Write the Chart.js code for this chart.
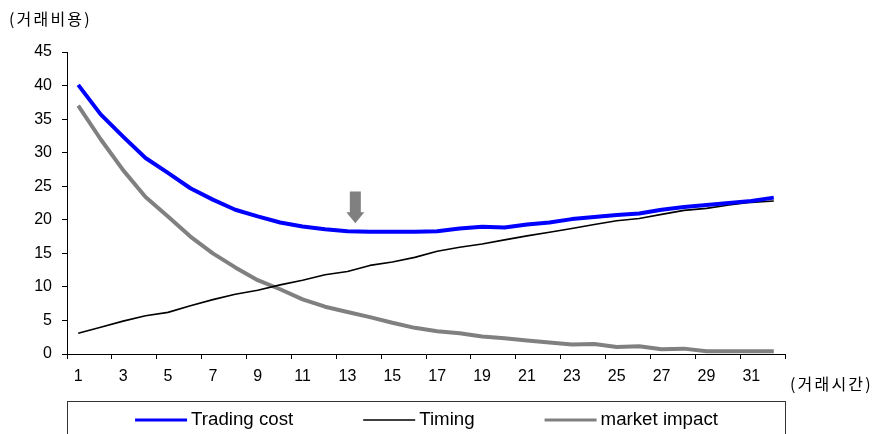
<!DOCTYPE html>
<html>
<head>
<meta charset="utf-8">
<script src="https://cdn.jsdelivr.net/npm/chart.js@4/dist/chart.umd.min.js"></script>
<style>
  html, body { margin: 0; padding: 0; background: #fff; }
  #wrap { width: 887px; height: 434px; position: relative; }
</style>
</head>
<body>
<div id="wrap"><canvas id="c" width="887" height="434"></canvas></div>
<script>
// Trading period (x axis categories)
const periods = ['1','2','3','4','5','6','7','8','9','10','11','12','13','14','15','16',
                 '17','18','19','20','21','22','23','24','25','26','27','28','29','30','31','32'];

// Total trading cost = timing risk + market impact
const tradingCost = [40.1, 35.7, 32.4, 29.2, 27.0, 24.7, 23.0, 21.5, 20.5, 19.6, 19.0, 18.6, 18.3, 18.2, 18.2, 18.2,
                     18.3, 18.7, 18.95, 18.85, 19.3, 19.6, 20.1, 20.4, 20.7, 20.95, 21.5, 21.9, 22.2, 22.5, 22.8, 23.3];
const timing = [3.1, 4.0, 4.9, 5.7, 6.2, 7.2, 8.1, 8.9, 9.5, 10.3, 11.0, 11.8, 12.3, 13.2, 13.7, 14.4,
                15.3, 15.9, 16.4, 17.0, 17.6, 18.15, 18.7, 19.3, 19.85, 20.2, 20.8, 21.4, 21.7, 22.2, 22.6, 22.8];
const marketImpact = [37.0, 32.0, 27.4, 23.4, 20.5, 17.5, 15.0, 12.9, 11.0, 9.65, 8.15, 7.05, 6.25, 5.5, 4.65, 3.9,
                      3.4, 3.1, 2.6, 2.35, 2.0, 1.7, 1.4, 1.5, 1.05, 1.15, 0.7, 0.8, 0.4, 0.4, 0.4, 0.4];

// Series names
const seriesNames = ['Trading cost', 'Timing', 'market impact'];

// Value axis range
const yMin = 0, yMax = 45, yStep = 5;

// Axis captions
const yCaption = '(거래비용)';
const xCaption = '(거래시간)';

// Marker pointing at the minimum-cost region (category index, value from/to)
const markerAt = 12.35;
const markerTop = 24.2;
const markerTip = 19.5;

const tickFont = { family: '"Liberation Sans", Arial, sans-serif', size: 16 };

const annotations = {
  id: 'annotations',
  afterDraw(chart) {
    const ctx = chart.ctx;
    const xs = chart.scales.x, ys = chart.scales.y;
    ctx.save();

    // closing tick mark at the right end of the category axis
    ctx.strokeStyle = '#000';
    ctx.lineWidth = 1;
    ctx.beginPath();
    const xr = Math.round(xs.right) + 0.5;
    ctx.moveTo(xr, ys.bottom);
    ctx.lineTo(xr, ys.bottom + 5);
    ctx.stroke();

    // axis captions
    ctx.fillStyle = '#000';
    ctx.font = '16px "Noto Sans CJK KR", sans-serif';
    ctx.letterSpacing = '2.2px';
    ctx.textBaseline = 'middle';
    ctx.textAlign = 'left';
    ctx.fillText(yCaption, 9, 19);
    ctx.fillText(xCaption, xs.right + 5, 384);
    ctx.letterSpacing = '0px';

    // down arrow marker
    const ax = xs.getPixelForValue(markerAt);
    const yTop = ys.getPixelForValue(markerTop);
    const yTip = ys.getPixelForValue(markerTip);
    const headH = 11, shaftHalf = 5.5, headHalf = 9;
    ctx.fillStyle = '#808080';
    ctx.beginPath();
    ctx.moveTo(ax - shaftHalf, yTop);
    ctx.lineTo(ax + shaftHalf, yTop);
    ctx.lineTo(ax + shaftHalf, yTip - headH);
    ctx.lineTo(ax + headHalf, yTip - headH);
    ctx.lineTo(ax, yTip);
    ctx.lineTo(ax - headHalf, yTip - headH);
    ctx.lineTo(ax - shaftHalf, yTip - headH);
    ctx.closePath();
    ctx.fill();

    // legend box below the plot
    const boxL = Math.round(xs.left) + 0.5, boxR = Math.round(xs.right) + 0.5;
    const boxT = 401.5;
    ctx.strokeStyle = '#333';
    ctx.lineWidth = 1;
    ctx.strokeRect(boxL, boxT, boxR - boxL, 60);

    ctx.font = '18.7px "Liberation Sans", Arial, sans-serif';
    ctx.textBaseline = 'middle';
    const sampleW = 52, gapText = 4, gapItem = 70;
    const items = chart.data.datasets.map(ds => ({
      label: ds.label, color: ds.borderColor,
      lw: Math.min(ds.borderWidth, 3.2),
      w: sampleW + gapText + ctx.measureText(ds.label).width
    }));
    const total = items.reduce((s, it) => s + it.w, 0) + gapItem * (items.length - 1);
    let x = (boxL + boxR) / 2 - total / 2;
    const ly = 420;
    items.forEach(it => {
      ctx.strokeStyle = it.color;
      ctx.lineWidth = it.lw;
      ctx.beginPath();
      ctx.moveTo(x, ly);
      ctx.lineTo(x + sampleW, ly);
      ctx.stroke();
      ctx.fillStyle = '#000';
      ctx.fillText(it.label, x + sampleW + gapText, ly);
      x += it.w + gapItem;
    });

    ctx.restore();
  }
};

new Chart(document.getElementById('c'), {
  type: 'line',
  data: {
    labels: periods,
    datasets: [
      { label: seriesNames[0], data: tradingCost, borderColor: '#0000FF', borderWidth: 4 },
      { label: seriesNames[1], data: timing, borderColor: '#000000', borderWidth: 1.6 },
      { label: seriesNames[2], data: marketImpact, borderColor: '#808080', borderWidth: 4 }
    ]
  },
  options: {
    responsive: false,
    animation: false,
    devicePixelRatio: 1,
    layout: { padding: { left: 0, right: 102, top: 52, bottom: 40 } },
    elements: {
      point: { radius: 0, hoverRadius: 0 },
      line: { tension: 0, fill: false, borderJoinStyle: 'round' }
    },
    plugins: { legend: { display: false }, tooltip: { enabled: false } },
    scales: {
      x: {
        type: 'category',
        offset: true,
        grid: {
          offset: true,
          drawOnChartArea: false,
          drawTicks: true,
          tickLength: 5,
          color: c => (c.index % 2 === 0 ? '#000' : 'rgba(0,0,0,0)')
        },
        border: { display: true, color: '#000', width: 1 },
        ticks: {
          autoSkip: false,
          maxRotation: 0,
          padding: 8,
          color: '#000',
          font: tickFont,
          callback: (v, i) => (i % 2 === 0 ? periods[i] : '')
        },
        afterFit: s => { s.height = 40; }
      },
      y: {
        min: yMin,
        max: yMax,
        ticks: { stepSize: yStep, padding: 10, color: '#000', font: tickFont },
        grid: { drawOnChartArea: false, drawTicks: true, tickLength: 5, color: '#000' },
        border: { display: true, color: '#000', width: 1 },
        afterFit: s => { s.width = 67; }
      }
    }
  },
  plugins: [annotations]
});
</script>
</body>
</html>
